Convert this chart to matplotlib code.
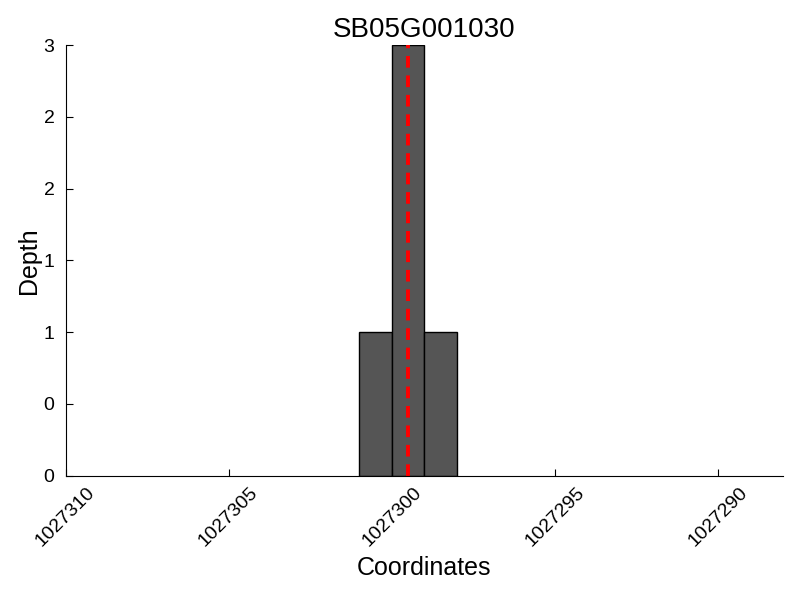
import matplotlib
matplotlib.use('Agg')
import matplotlib.pyplot as plt
from matplotlib.ticker import FormatStrFormatter

plt.rcParams['font.family'] = ['Liberation Sans', 'DejaVu Sans']

gene = 'SB05G001030'
coords = [1027301, 1027300, 1027299]
depth = [1, 3, 1]
snp_pos = 1027299.5
xticks = [1027310, 1027305, 1027300, 1027295, 1027290]
yticks = [0, 0.5, 1, 1.5, 2, 2.5, 3]

fig = plt.figure(figsize=(8, 6), dpi=100)
ax = fig.add_axes([0.082, 0.207, 0.897, 0.718])

ax.bar(coords, depth, width=-1, align='edge', color='#555555', edgecolor='black', linewidth=1)
ax.plot([snp_pos, snp_pos], [0, max(depth)], color='red', linestyle=(0, (3, 2)), linewidth=2.8)

ax.set_xlim(1027310, 1027288)
ax.set_ylim(0, 3)
ax.set_xticks(xticks)
ax.set_yticks(yticks)
ax.xaxis.set_major_formatter(FormatStrFormatter('%d'))
ax.yaxis.set_major_formatter(FormatStrFormatter('%d'))
ax.tick_params(direction='in', labelsize=14, length=5, top=False, right=False)
ax.tick_params(axis='y', pad=8)
ax.tick_params(axis='x', pad=6)
plt.setp(ax.get_xticklabels(), rotation=45, ha='center')

for s in ['top', 'right']:
    ax.spines[s].set_visible(False)

ax.set_xlabel('Coordinates', fontsize=18)
ax.set_ylabel('Depth', fontsize=18, labelpad=2)
ax.set_title(gene, fontsize=20)

fig.savefig('out.png', dpi=100)
